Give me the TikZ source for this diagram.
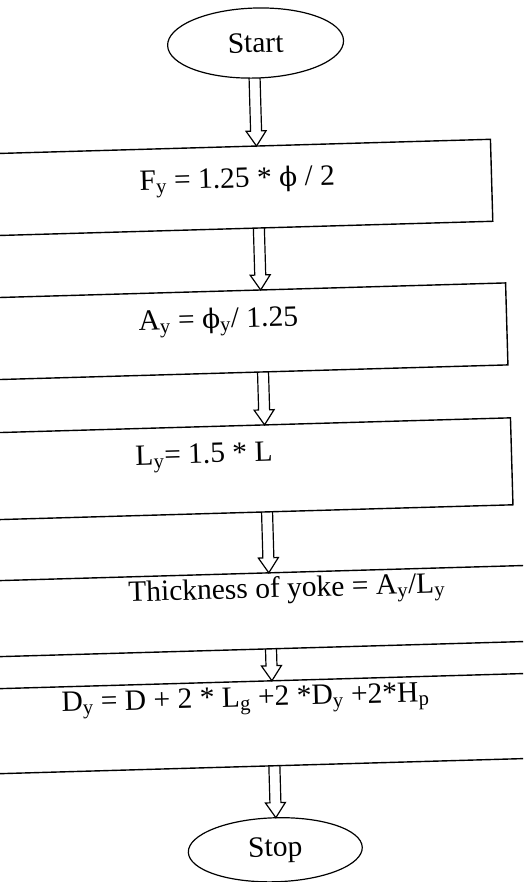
\documentclass[tikz,border=0pt]{standalone}
\usepackage{fontspec}
\setmainfont{Liberation Serif}
\newfontfamily\phifont{DejaVu Serif}[Scale=0.9]
\usetikzlibrary{shapes.geometric,calc}
\newcommand\phisym{{\phifont\char"03D5}}
\tikzset{
 boxnode/.style={draw, rectangle, line width=1.4pt, inner sep=0pt, outer sep=0pt},
 termnode/.style={draw, ellipse, line width=1.2pt, inner sep=0pt, outer sep=0pt, font=\fontsize{29.5}{35}\selectfont},
 txtnode/.style={inner sep=0pt, outer sep=0pt, anchor=base west, font=\fontsize{29.5}{35}\selectfont},
 harrow/.style={draw, line width=1.2pt, line join=miter},
}
\newcommand\hollowarr[2]{\draw[harrow] ($(#1)+(-5.5,0)$) -- ($(#2)+(-5.5,-15)$) -- ($(#2)+(-10,-15)$) -- (#2) -- ($(#2)+(10,-15)$) -- ($(#2)+(5.5,-15)$) -- ($(#1)+(5.5,0)$);}
\begin{document}
\begin{tikzpicture}[x=1pt,y=-1pt]
\useasboundingbox (0,0) rectangle (523,882);
\fill[white] (0,0) rectangle (523,882);
\clip (0,0) rectangle (523,882);
\begin{scope}[rotate around={1.65:(262,440)}, transform shape]
\coordinate (xc) at (265,0);
\node[termnode, minimum width=176pt, minimum height=70pt] (start) at (267,43) {Start};
\node[boxnode, minimum width=519pt, minimum height=82pt] (b1) at (239.5,187) {};
\node[boxnode, minimum width=530pt, minimum height=82pt] (b2) at (245,331) {};
\node[boxnode, minimum width=531pt, minimum height=87pt] (b3) at (245.5,468.5) {};
\node[boxnode, minimum width=580pt, minimum height=76pt] (b4) at (270,611) {};
\node[boxnode, minimum width=580pt, minimum height=85pt] (b5) at (270,723.5) {};
\node[termnode, minimum width=174pt, minimum height=64pt] (stop) at (263.5,850) {Stop};
\node[txtnode] (t1) at (147,187) {F\textsubscript{y} = 1.25 * \phisym{} / 2};
\node[txtnode] (t2) at (142,327) {A\textsubscript{y} = \phisym\textsubscript{y}/ 1.25};
\node[txtnode] (t3) at (135,461.5) {L\textsubscript{y}= 1.5 * L};
\node[txtnode] (t4) at (124,598) {Thickness of yoke = A\textsubscript{y}/L\textsubscript{y}};
\node[txtnode] (t5) at (54,706) {D\textsubscript{y} = D + 2 * L\textsubscript{g} +2 *D\textsubscript{y} +2*H\textsubscript{p}};
\hollowarr{start.south -| xc}{b1.north -| xc}
\hollowarr{b1.south -| xc}{b2.north -| xc}
\hollowarr{b2.south -| xc}{b3.north -| xc}
\hollowarr{b3.south -| xc}{b4.north -| xc}
\hollowarr{b4.south -| xc}{b5.north -| xc}
\hollowarr{b5.south -| xc}{stop.north -| xc}
\end{scope}
\end{tikzpicture}
\end{document}
